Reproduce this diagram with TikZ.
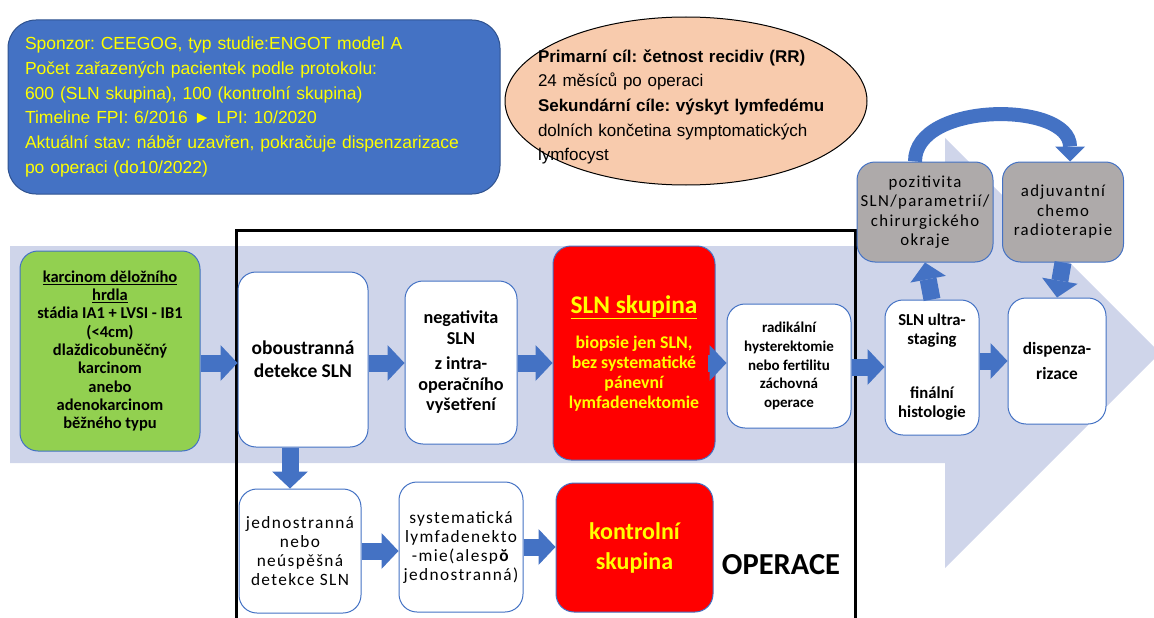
\documentclass[tikz,border=0pt]{standalone}
\usepackage{fontspec}
\setmainfont{Carlito}
\newfontfamily\arialfont{Liberation Sans}
\newfontfamily\widefont[LetterSpace=8]{Carlito}
\usetikzlibrary{arrows.meta}
\definecolor{bandcol}{HTML}{CFD5EA}
\definecolor{infoblue}{HTML}{4472C4}
\definecolor{infoline}{HTML}{2F528F}
\definecolor{arrowblue}{HTML}{4472C4}
\definecolor{boxblue}{HTML}{4472C4}
\definecolor{greencol}{HTML}{92D050}
\definecolor{greycol}{HTML}{AEAAAA}
\definecolor{peach}{HTML}{F8CBAD}
\definecolor{hiyellow}{HTML}{FFFF00}
\frenchspacing
\begin{document}
\begin{tikzpicture}[x=1pt, y=-1pt,
    box/.style={draw=boxblue, line width=1pt, rounded corners=18pt, fill=white,
      align=center, inner sep=0pt, font=\bfseries\fontsize{15}{18.8}\selectfont},
    redbox/.style={box, fill=red, text=hiyellow},
    greybox/.style={box, fill=greycol, font=\widefont\fontsize{16.8}{19.5}\selectfont},
    widebox/.style={box, font=\widefont\fontsize{17.3}{19}\selectfont},
    blockarr/.style={draw=arrowblue, line width=17pt,
      -{Triangle[width=36pt, length=17pt, line width=0pt]}},
    bentarr/.style={draw=arrowblue, line width=14pt,
      -{Triangle[width=30pt, length=15pt, line width=0pt]}}
  ]
  \useasboundingbox (0,0) rectangle (1154,618);

  % big background arrow
  \fill[bandcol] (10,246) -- (945,246) -- (945,138) -- (1160,353)
    -- (945,568) -- (945,463) -- (10,463) -- cycle;

  % frame of the operation part
  \draw[line width=3pt] (236,630) -- (236,230) -- (855,230) -- (855,630);

  % study info and goals
  \node[draw=infoline, line width=1pt, fill=infoblue, rounded corners=28pt,
    minimum width=492, minimum height=174, text width=458pt, align=left,
    inner sep=0pt, text=hiyellow, font=\arialfont\fontsize{17.5}{24.7}\selectfont]
    (info) at (254,107) {Sponzor: CEEGOG, typ studie:ENGOT model A\\
      Počet zařazených pacientek podle protokolu:\\
      600 (SLN skupina), 100 (kontrolní skupina)\\
      Timeline FPI: 6/2016 ► LPI: 10/2020\\
      Aktuální stav: náběr uzavřen, pokračuje dispenzarizace\\
      po operaci (do10/2022)};
  \draw[line width=1pt, fill=peach] (686,101) ellipse [x radius=181, y radius=84];
  \node[text width=300pt, align=left, inner sep=0pt,
    font=\arialfont\fontsize{17}{24.7}\selectfont]
    (goals) at (688,107) {\textbf{Primarní cíl: četnost recidiv (RR)}\\
      24 měsíců po operaci\\
      \textbf{Sekundární cíle: výskyt lymfedému}\\
      dolních končetina symptomatických\\
      lymfocyst};

  % main row
  \coordinate (midrow) at (0,363);
  \node[box, fill=greencol, minimum width=180, minimum height=200,
    font=\bfseries\fontsize{16.5}{18.3}\selectfont] (karc) at (110,351)
    {\underline{karcinom děložního}\\ \underline{hrdla}\\ stádia IA1 + LVSI - IB1\\ (<4cm)\\
     dlaždicobuněčný\\ karcinom\\ anebo\\ adenokarcinom\\ běžného typu};
  \node[box, minimum width=130, minimum height=175,
    font=\bfseries\fontsize{19.5}{23}\selectfont] (obou) at (303,359.5)
    {oboustranná\\ detekce SLN};
  \node[box, minimum width=112, minimum height=163,
    font=\bfseries\fontsize{18.2}{20.5}\selectfont] (neg) at (461,362.5)
    {negativita\\ SLN\\[5pt] z intra-\\ operačního\\ vyšetření};
  \node[redbox, minimum width=162, minimum height=214,
    font=\bfseries\fontsize{17.8}{20}\selectfont] (slnsk) at (634,353)
    {{\fontsize{25.4}{30}\selectfont\underline{SLN skupina}}\\[15pt]
     biopsie jen SLN,\\ bez systematické\\ pánevní\\ lymfadenektomie};
  \node[box, minimum width=124, minimum height=124] (radik) at (789,366)
    {radikální\\ hysterektomie\\ nebo fertilitu\\ záchovná\\ operace};
  \node[box, minimum width=94, minimum height=135,
    font=\bfseries\fontsize{16.7}{19}\selectfont] (ultra) at (932,367.5)
    {SLN ultra-\\ staging\\[35pt] finální\\ histologie};
  \node[box, minimum width=98, minimum height=126,
    font=\bfseries\fontsize{17.3}{25}\selectfont] (disp) at (1057,361)
    {dispenza-\\ rizace};

  % positive findings
  \node[greybox, minimum width=136, minimum height=100] (posit) at (925,212)
    {pozitivita\\ SLN/parametrií/\\ chirurgického\\ okraje};
  \node[greybox, minimum width=121, minimum height=100] (adjuv) at (1063,212)
    {adjuvantní\\ chemo\\ radioterapie};

  % lower row
  \node[widebox, minimum width=122, minimum height=124] (jedno) at (300,551)
    {jednostranná\\ nebo\\ neúspěšná\\ detekce SLN};
  \node[widebox, minimum width=124, minimum height=130] (syst) at (461,547)
    {systematická\\ lymfadenekto\\ -mie(alesp\textbf{ŏ}\\ jednostranná)};
  \node[redbox, minimum width=157, minimum height=129,
    font=\bfseries\fontsize{24}{30}\selectfont] (kontr) at (634.5,547.5)
    {kontrolní\\ skupina};
  \node[font=\bfseries\fontsize{30.5}{32}\selectfont] (oper) at (781,565) {OPERACE};

  % arrows
  \draw[blockarr] (karc.east |- midrow) -- (obou.west |- midrow);
  \draw[blockarr] (obou.east |- midrow) -- (neg.west |- midrow);
  \draw[blockarr] (neg.east |- midrow) -- (slnsk.west |- midrow);
  \draw[blockarr] ([xshift=-8pt]slnsk.east |- midrow) -- (radik.west |- midrow);
  \draw[blockarr] ([yshift=-4pt]radik.east |- midrow) -- ([yshift=-4pt]ultra.west |- midrow);
  \draw[blockarr] ([yshift=2pt]ultra.east |- midrow) -- ([yshift=2pt]disp.west |- midrow);
  \draw[blockarr] (ultra.north) -- (posit.south);
  \draw[blockarr] (adjuv.south) -- (disp.north);
  \draw[blockarr] ([xshift=-13pt]obou.south) -- ([xshift=-10pt]jedno.north);
  \draw[blockarr] (jedno.east) -- (syst.west |- jedno.east);
  \draw[blockarr] (syst.east) -- (kontr.west |- syst.east);
  \draw[bentarr] ([xshift=-10pt]posit.north) to[out=90, in=90] ([xshift=7pt]adjuv.north);
\end{tikzpicture}
\end{document}
